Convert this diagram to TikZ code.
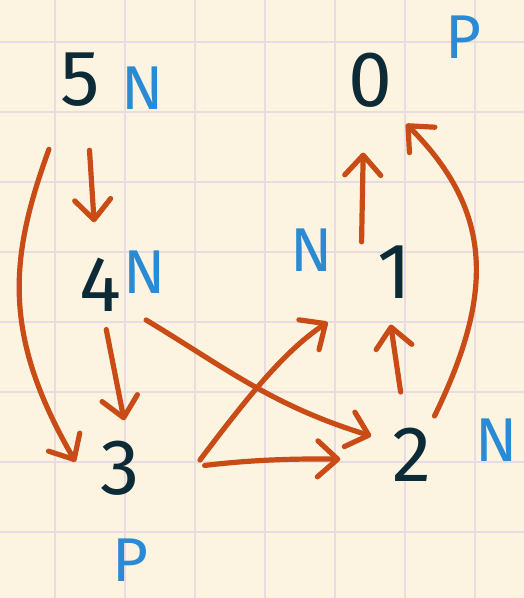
\documentclass[tikz,border=0pt]{standalone}
\usepackage{fontspec}
\setmainfont{Fira Sans}
\usetikzlibrary{arrows.meta}
\definecolor{paperBg}{HTML}{FCF4E1}
\definecolor{paperGrid}{HTML}{E6DCE2}
\definecolor{inkDark}{HTML}{0D2B36}
\definecolor{inkBlue}{HTML}{2A8AD4}
\definecolor{inkOrange}{HTML}{C94C16}

\begin{document}
\begin{tikzpicture}[
    x=0.25mm, y=0.25mm,
    digit/.style={circle, minimum size=22.5mm, inner sep=0pt, outer sep=0pt,
                  font=\fontsize{56}{56}\selectfont, text=inkDark},
    lbl/.style={inner sep=0pt, font=\fontsize{44}{44}\selectfont, text=inkBlue},
    gridline/.style={paperGrid, line width=0.5mm},
    arr/.style={-{Straight Barb[length=5mm, width=9mm, round]},
                line width=1.3mm, line cap=round, inkOrange},
  ]
    % paper
    \useasboundingbox (0,0) rectangle (524,-598);
    \fill[paperBg] (0,0) rectangle (524,-598);
    \foreach \gx in {55,125,...,475}
      \draw[gridline] (\gx,0) -- (\gx,-598);
    \foreach \gy in {42,112,...,532}
      \draw[gridline] (0,-\gy) -- (524,-\gy);

    % vertices
    \node[digit] (n5) at (80,-80) {5};
    \node[digit] (n4) at (100,-285) {4};
    \node[digit] (n3) at (120,-468) {3};
    \node[digit] (n0) at (370,-80) {0};
    \node[digit] (n1) at (395,-272) {1};
    \node[digit] (n2) at (412,-455) {2};

    % labels
    \node[lbl] (l5) at (143,-88) {N};
    \node[lbl] (l4) at (145,-272) {N};
    \node[lbl] (l1) at (312,-250) {N};
    \node[lbl] (l2) at (497,-440) {N};
    \node[lbl] (l0) at (463,-37) {P};
    \node[lbl] (l3) at (130,-560) {P};

    % edges
    \draw[arr, shorten <=7.75mm] (n5.-117) to[out=-110, in=120, looseness=1.1] (n3.172);
    \draw[arr, shorten <=6.5mm, shorten >=4.5mm] (n5.-80) -- (n4.96);
    \draw[arr, shorten >=0.75mm] (n4.-82) -- (n3.84);
    \draw[arr, shorten <=3.25mm] (n4.-39) to[out=-31, in=163] (n2.155);
    \draw[arr, shorten >=9.75mm] ([shift={(35,8)}]n3.east) to[out=53, in=214] (n1.-141);
    \draw[arr, shorten <=10mm, shorten >=6.75mm] (n3.-3) to[bend left=4] (n2.186);
    \draw[arr, shorten <=4.75mm, shorten >=2mm] (n2.101) -- (n1.-97);
    \draw[arr, shorten >=7mm] (n1.138) -- (n0.-98);
    \draw[arr, shorten >=3mm] (n2.60) to[out=64, in=-45, looseness=1.15] (n0.-52);
\end{tikzpicture}
\end{document}
